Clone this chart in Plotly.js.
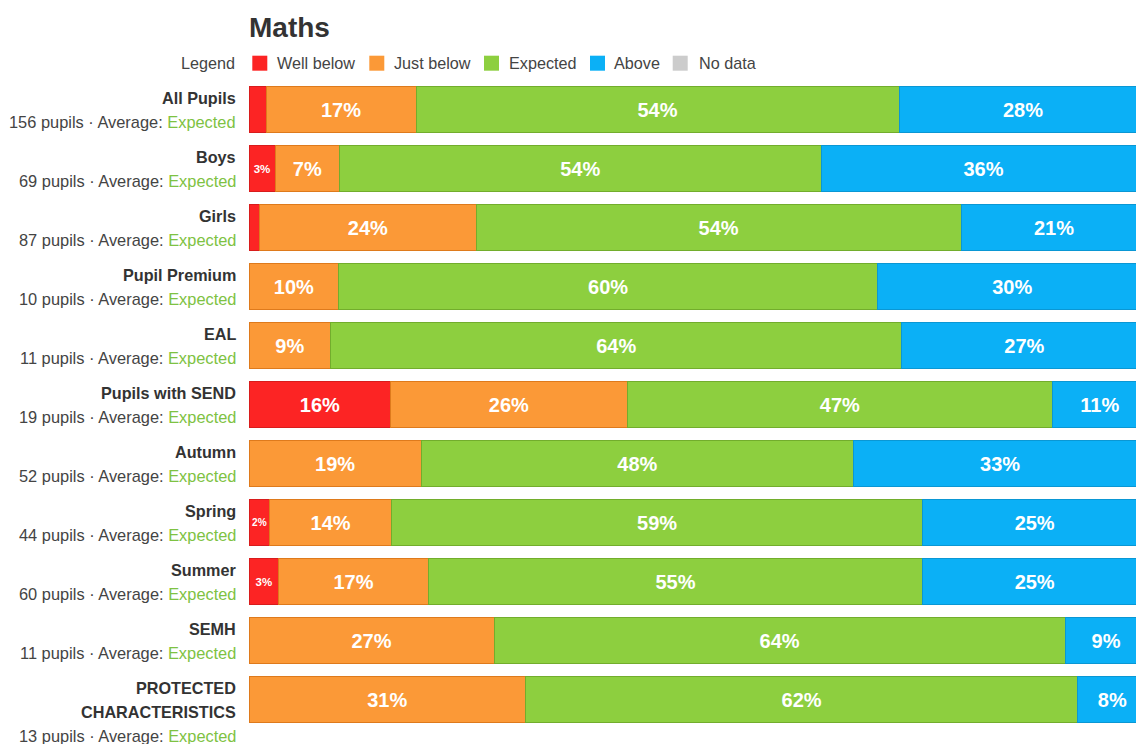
<!DOCTYPE html>
<html>
<head>
<meta charset="utf-8">
<script src="https://cdn.plot.ly/plotly-3.0.1.min.js"></script>
<style>
html,body{margin:0;padding:0;overflow:hidden;background:#fff;}
#chart{width:1160px;height:760px;}
</style>
</head>
<body>
<div id="chart"></div>
<script>
// ---- data (percent of pupils in each band) ----
var groups = ["All Pupils","Boys","Girls","Pupil Premium","EAL","Pupils with SEND","Autumn","Spring","Summer","SEMH","PROTECTED CHARACTERISTICS"];
var pupils = [156,69,87,10,11,19,52,44,60,11,13];
var averages = ["Expected","Expected","Expected","Expected","Expected","Expected","Expected","Expected","Expected","Expected","Expected"];
var wellBelow = [1.9,2.9,1.2,0,0,15.8,0,2.3,3.3,0,0];
var justBelow = [16.7,7.2,24.1,10,9.1,26.3,19.2,13.6,16.7,27.3,30.8];
var expected  = [53.8,53.6,54.0,60,63.6,47.4,48.1,59.1,55.0,63.6,61.5];
var above     = [27.6,36.2,20.7,30,27.3,10.5,32.7,25.0,25.0,9.1,7.7];
var noData    = [0,0,0,0,0,0,0,0,0,0,0];
var seriesNames = ["Well below","Just below","Expected","Above","No data"];

// ---- styles ----
var FONT = "Liberation Sans, Arial, Helvetica, sans-serif";
var fills = ["#fc2424","#fb9937","#8dcf3f","#0bb0f6","#cccccc"];
var edges = ["#d81c1c","#de7a1c","#72ad2c","#0a97d4","#bbbbbb"];
var bandColors = {"Well below":"#fc2424","Just below":"#fb9937","Expected":"#7ec242","Above":"#0bb0f6"};
var PLOT_L = 249, PLOT_T = 79.5;
// legend swatch / label pixel positions (layout only)
var legSwatchX = [252.3, 369.3, 484, 590, 672.7];
var legTextX   = [275.3, 391.7, 507.3, 611.7, 696.7];
var legY = 62.7;

var seriesVals = [wellBelow, justBelow, expected, above, noData];
var traces = seriesVals.map(function(vals, k){
  return {
    type: "bar",
    orientation: "h",
    name: seriesNames[k],
    y: groups,
    x: vals,
    text: vals.map(function(v){ return v >= 2 ? Math.round(v) + "%" : ""; }),
    textposition: "inside",
    insidetextanchor: "middle",
    textangle: 0,
    textfont: {family: FONT, color: "#ffffff", size: vals.map(function(v){ return v < 5 ? 11.5 : 20; }), weight: "bold"},
    marker: {color: fills[k], line: {color: edges[k], width: k === 4 ? 0 : 1}},
    showlegend: false,
    hoverinfo: "skip"
  };
});

// ---- row labels (top-aligned with each bar) ----
var BW = 0.78;
var annotations = [];
var shapes = [];
groups.forEach(function(g, i){
  var lines = g.length > 20 ? g.split(" ") : [g];
  lines.forEach(function(line, j){
    annotations.push({
      xref: "paper", yref: "y", x: 0, y: i - BW/2, xanchor: "right", yanchor: "middle",
      xshift: -11.5, yshift: -12 - 23.8*j, showarrow: false,
      text: "<b>" + line + "</b>",
      font: {family: FONT, size: 16.2, color: "#333333"}
    });
  });
  annotations.push({
    xref: "paper", yref: "y", x: 0, y: i - BW/2, xanchor: "right", yanchor: "middle",
    xshift: -11.5, yshift: -12 - 23.8*lines.length, showarrow: false,
    text: pupils[i] + " pupils · Average: <span style=\"color:" + bandColors[averages[i]] + "\">" + averages[i] + "</span>",
    font: {family: FONT, size: 16.4, color: "#444444"}
  });
});

// ---- legend row ----
annotations.push({
  xref: "paper", yref: "paper", x: 0, y: 1, xanchor: "right", yanchor: "middle",
  xshift: 236.7 - PLOT_L, yshift: PLOT_T - legY, showarrow: false,
  text: "Legend", font: {family: FONT, size: 16.2, color: "#444444"}
});
seriesNames.forEach(function(n, k){
  shapes.push({
    type: "rect", xref: "paper", yref: "paper",
    xsizemode: "pixel", ysizemode: "pixel", xanchor: 0, yanchor: 1,
    x0: legSwatchX[k] - PLOT_L, x1: legSwatchX[k] - PLOT_L + 15,
    y0: PLOT_T - (legY - 7.5), y1: PLOT_T - (legY + 7.5),
    fillcolor: fills[k], line: {width: 0}
  });
  annotations.push({
    xref: "paper", yref: "paper", x: 0, y: 1, xanchor: "left", yanchor: "middle",
    xshift: legTextX[k] - PLOT_L, yshift: PLOT_T - legY, showarrow: false,
    text: n, font: {family: FONT, size: 16.2, color: "#444444"}
  });
});

var layout = {
  width: 1160,
  height: 760,
  margin: {l: PLOT_L, r: 13, t: PLOT_T, b: 30.5, pad: 0, autoexpand: false},
  paper_bgcolor: "#ffffff",
  plot_bgcolor: "#ffffff",
  font: {family: FONT, size: 16, color: "#333333"},
  title: {
    text: "<b>Maths</b>",
    font: {family: FONT, size: 28, color: "#333333"},
    automargin: false,
    xref: "container", x: 249/1160, xanchor: "left",
    yref: "container", y: 1 - 27/760, yanchor: "middle"
  },
  barmode: "stack",
  bargap: 1 - BW,
  showlegend: false,
  xaxis: {range: [0, 100], autorange: false, visible: false, showgrid: false, zeroline: false, fixedrange: true, automargin: false},
  yaxis: {type: "category", range: [groups.length - 0.5, -0.5], autorange: false, showticklabels: false, showgrid: false, zeroline: false, ticks: "", fixedrange: true, automargin: false},
  annotations: annotations,
  shapes: shapes
};

Plotly.newPlot("chart", traces, layout, {displayModeBar: false, staticPlot: true});
</script>
</body>
</html>
